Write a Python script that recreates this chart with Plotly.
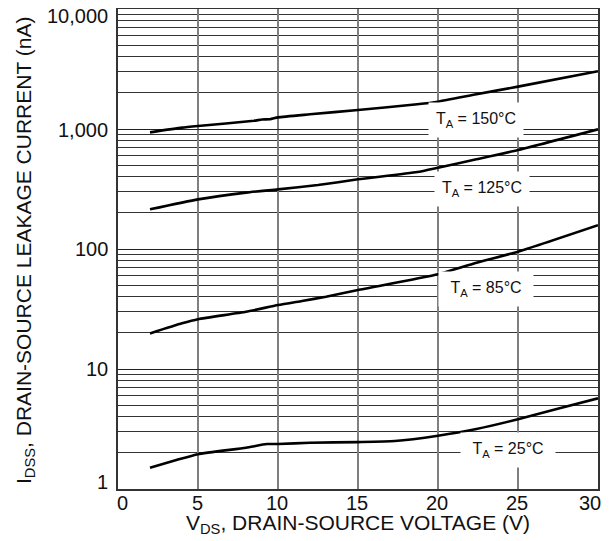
import math
import plotly.graph_objects as go

# Drain-source voltage (V) sample points and leakage current (nA) per temperature
v_150 = [2, 4, 5, 8.5, 9, 9.5, 10, 12, 15, 18.7, 20, 22.4, 25, 30]
i_150 = [938, 1026, 1059, 1172, 1200, 1205, 1250, 1325, 1439, 1606, 1689, 1946, 2256, 3030]

v_125 = [2, 5, 8, 10, 12.5, 15, 18.7, 20, 22.4, 25, 30]
i_125 = [214, 259, 295, 314, 341, 381, 438, 476, 559, 668, 994]

v_85 = [2, 4, 5, 8, 10, 11.5, 13, 15, 20, 22.4, 25, 30]
i_85 = [19.8, 24, 26, 30, 34.1, 36.9, 40, 45.5, 61.5, 76.9, 95, 158]

v_25 = [2, 3.7, 5, 8, 9.3, 10, 12, 15, 17.3, 20, 22.4, 25, 27.6, 30]
i_25 = [1.5, 1.75, 1.95, 2.21, 2.37, 2.37, 2.43, 2.46, 2.51, 2.78, 3.16, 3.81, 4.7, 5.7]

labels = ["T<sub>A</sub> = 150°C", "T<sub>A</sub> = 125°C",
          "T<sub>A</sub> = 85°C", "T<sub>A</sub> = 25°C"]

x_ticks = [0, 5, 10, 15, 20, 25, 30]
x_ticktext = ["0", "5", "10", "15", "20", "25", "30"]
y_ticks = [1, 10, 100, 1000, 10000]
y_ticktext = ["1", "10", "100", "1,000", "10,000"]
y_minor = [m * 10 ** d for d in range(4) for m in range(2, 10)]

x_title = "V<sub>DS</sub>, DRAIN-SOURCE VOLTAGE (V)"
y_title = "I<sub>DSS</sub>, DRAIN-SOURCE LEAKAGE CURRENT (nA)"

FONT = "Liberation Sans, Arial, sans-serif"
TXT = "#111"

fig = go.Figure()
for vx, iy in [(v_150, i_150), (v_125, i_125), (v_85, i_85), (v_25, i_25)]:
    fig.add_trace(go.Scatter(x=vx, y=iy, mode="lines",
                             line=dict(color="black", width=2.6, shape="spline", smoothing=0.5),
                             showlegend=False, hoverinfo="skip"))

# curve labels (white boxes over the grid)
label_pos = [(22.4, 1189), (22.75, 314), (23.0, 46.4), (24.4, 2.11)]
for text, (lx, ly) in zip(labels, label_pos):
    fig.add_annotation(x=lx, y=math.log10(ly), yref="y", xref="x", text=text, showarrow=False,
                       font=dict(family=FONT, size=16, color=TXT),
                       bgcolor="white", width=92, height=32)

# y tick labels (end labels nudged inside, as in the original)
y_shift = {1: 7, 10: 0, 100: 0, 1000: -1, 10000: -7}
for val, txt in zip(y_ticks, y_ticktext):
    fig.add_annotation(x=0, xref="paper", y=math.log10(val), yref="y", text=txt,
                       showarrow=False, xanchor="right", yanchor="middle",
                       xshift=-8, yshift=y_shift[val],
                       font=dict(family=FONT, size=20, color=TXT))

# x tick labels (end labels nudged inside)
x_shift = {0: 4, 30: -8}
for val, txt in zip(x_ticks, x_ticktext):
    fig.add_annotation(x=val, xref="x", y=0, yref="paper", text=txt,
                       showarrow=False, xanchor="center", yanchor="middle",
                       xshift=x_shift.get(val, -1), yshift=-14,
                       font=dict(family=FONT, size=20, color=TXT))

# axis titles
fig.add_annotation(x=0, xref="paper", y=0.5, yref="paper", text=y_title, textangle=-90,
                   showarrow=False, xanchor="center", yanchor="middle", xshift=-93, yshift=-2,
                   font=dict(family=FONT, size=21, color=TXT))
fig.add_annotation(x=0.5, xref="paper", y=0, yref="paper", text=x_title,
                   showarrow=False, xanchor="center", yanchor="middle", yshift=-35,
                   font=dict(family=FONT, size=21, color=TXT))

fig.update_layout(
    width=613, height=541,
    margin=dict(l=110, r=23, t=1, b=60),
    plot_bgcolor="white", paper_bgcolor="white",
    font=dict(family=FONT, color=TXT),
)
fig.update_xaxes(
    range=[0, 30], tickvals=x_ticks, showticklabels=False, ticks="", showgrid=True,
    automargin=False, gridcolor="#7f7f7f", gridwidth=1.8, zeroline=False,
    showline=True, linecolor="#333", linewidth=1.5, mirror=True,
)
fig.update_yaxes(
    type="log", range=[0, 4], tickvals=y_ticks, showticklabels=False, ticks="", automargin=False,
    showgrid=True, gridcolor="#222", gridwidth=1, zeroline=False,
    minor=dict(tickvals=y_minor, showgrid=True, gridcolor="#333", gridwidth=1, ticks=""),
    showline=True, linecolor="#333", linewidth=1.5, mirror=True,
)

fig.write_html("out.html")
